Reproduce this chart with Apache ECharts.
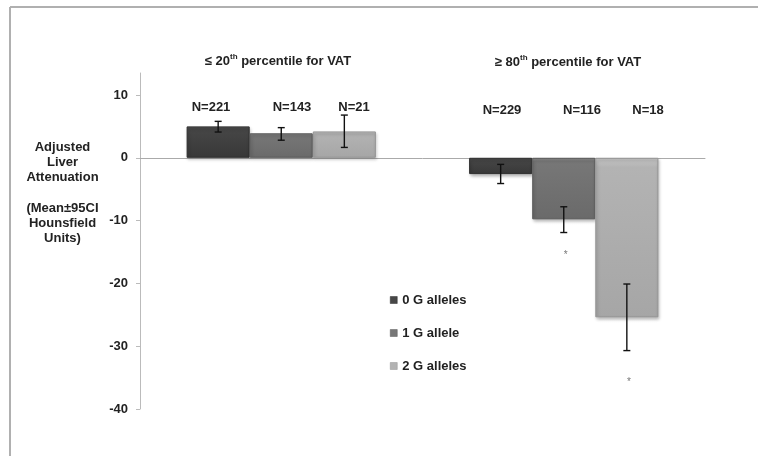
<!DOCTYPE html>
<html>
<head>
<meta charset="utf-8">
<script src="https://cdn.jsdelivr.net/npm/echarts@6/dist/echarts.min.js"></script>
<style>
html,body{margin:0;padding:0;background:#fff;}
#c{width:758px;height:456px;}
</style>
</head>
<body>
<div id="c"></div>
<script>
// ---- data ----
const categories = ['≤ 20th percentile for VAT', '≥ 80th percentile for VAT'];
const seriesNames = ['0 G alleles', '1 G allele', '2 G alleles'];
const means0 = [5.0, -2.6];
const means1 = [3.9, -9.8];
const means2 = [4.2, -25.4];
const ciLow0 = [4.1, -4.1];
const ciHigh0 = [5.8, -1.05];
const ciLow1 = [2.8, -11.9];
const ciHigh1 = [4.8, -7.8];
const ciLow2 = [1.65, -30.7];
const ciHigh2 = [6.8, -20.1];
const sig0 = [null, null];
const sig1 = [null, -15.5];
const sig2 = [null, -35.7];
const nLabels0 = ['N=221', 'N=229'];
const nLabels1 = ['N=143', 'N=116'];
const nLabels2 = ['N=21', 'N=18'];
const yTicks = [-40, -30, -20, -10, 0, 10];
const yTitle = 'Adjusted\nLiver\nAttenuation\n\n(Mean±95CI\nHounsfield\nUnits)';

const CAT_GAP = 0.33;
const means = [means0, means1, means2];
const lows = [ciLow0, ciLow1, ciLow2];
const highs = [ciHigh0, ciHigh1, ciHigh2];
const sigs = [sig0, sig1, sig2];

const errData = [];
const sigData = [];
for (let s = 0; s < 3; s++) {
  for (let c = 0; c < categories.length; c++) {
    errData.push([c, s, lows[s][c], highs[s][c]]);
    if (sigs[s][c] != null) sigData.push([c, s, sigs[s][c]]);
  }
}

const barStyles = [
  {top: '#5e5e5e', mid: '#474747', bot: '#383838', border: '#2e2e2e'},
  {top: '#8c8c8c', mid: '#777777', bot: '#6a6a6a', border: '#5a5a5a'},
  {top: '#c6c6c6', mid: '#b3b3b3', bot: '#a6a6a6', border: '#959595'}
];
const legendColors = ['#474747', '#777777', '#b3b3b3'];

function barX(api, cat, s) {
  const band = api.size([1, 0])[0];
  const w = band * (1 - CAT_GAP) / 3;
  return api.coord([cat, 0])[0] + (s - 1) * w;
}

const chart = echarts.init(document.getElementById('c'), null, {renderer: 'canvas'});
const font = 'Liberation Sans, Arial, sans-serif';

const barSeries = seriesNames.map((name, i) => ({
  name: name,
  type: 'bar',
  data: means[i],
  barGap: '0%',
  barCategoryGap: (CAT_GAP * 100) + '%',
  itemStyle: {
    color: new echarts.graphic.LinearGradient(0, 0, 0, 1, [
      {offset: 0, color: barStyles[i].top},
      {offset: 0.06, color: barStyles[i].mid},
      {offset: 1, color: barStyles[i].bot}
    ]),
    borderColor: barStyles[i].border,
    borderWidth: 1,
    shadowColor: 'rgba(0,0,0,0.25)',
    shadowBlur: 3,
    shadowOffsetY: 2,
    shadowOffsetX: 1
  },
  emphasis: {disabled: true}
}));

const option = {
  backgroundColor: '#fff',
  animation: false,
  color: legendColors,
  grid: {left: 140, right: 53, top: 73, bottom: 47, containLabel: false},
  legend: {
    data: seriesNames.map((n, i) => ({name: n, itemStyle: {color: legendColors[i], borderColor: barStyles[i].border, borderWidth: 0.5}})),
    orient: 'vertical',
    left: 390,
    top: 293.5,
    padding: 0,
    itemWidth: 7,
    itemHeight: 7,
    itemGap: 20,
    icon: 'rect',
    textStyle: {fontFamily: font, fontWeight: 'bold', fontSize: 13, color: '#222'}
  },
  xAxis: {
    type: 'category',
    data: categories,
    axisLine: {show: true, onZero: true, lineStyle: {color: '#aaaaaa', width: 1}},
    axisTick: {show: false},
    axisLabel: {show: false},
    splitLine: {show: false}
  },
  yAxis: {
    type: 'value',
    min: -40,
    max: 13.5,
    interval: 10,
    axisLine: {show: true, lineStyle: {color: '#bbbbbb', width: 1}},
    axisTick: {show: true, length: 4, lineStyle: {color: '#bbbbbb'}, customValues: yTicks},
    axisLabel: {
      customValues: yTicks,
      fontFamily: font, fontWeight: 'bold', fontSize: 13, color: '#222', margin: 12,
      formatter: v => (yTicks.indexOf(v) >= 0 ? String(v) : '')
    },
    splitLine: {show: false}
  },
  series: barSeries.concat([
    {
      type: 'custom',
      name: 'ci',
      data: errData,
      z: 5,
      silent: true,
      encode: {x: 0, y: [2, 3]},
      renderItem: function (params, api) {
        const cat = api.value(0), s = api.value(1);
        const x = barX(api, cat, s);
        const y1 = api.coord([cat, api.value(2)])[1];
        const y2 = api.coord([cat, api.value(3)])[1];
        const st = {stroke: '#111', lineWidth: 1.4};
        return {
          type: 'group',
          children: [
            {type: 'line', shape: {x1: x, y1: y1, x2: x, y2: y2}, style: st},
            {type: 'line', shape: {x1: x - 3.5, y1: y1, x2: x + 3.5, y2: y1}, style: st},
            {type: 'line', shape: {x1: x - 3.5, y1: y2, x2: x + 3.5, y2: y2}, style: st}
          ]
        };
      }
    },
    {
      type: 'custom',
      name: 'sig',
      data: sigData,
      z: 5,
      silent: true,
      encode: {x: 0, y: 2},
      renderItem: function (params, api) {
        const cat = api.value(0), s = api.value(1);
        const x = barX(api, cat, s) + 2;
        const y = api.coord([cat, api.value(2)])[1];
        return {
          type: 'text',
          style: {x: x, y: y, text: '*', fill: '#777', fontSize: 10, fontFamily: font, align: 'center', verticalAlign: 'middle'}
        };
      }
    }
  ]),
  graphic: [
    {type: 'line', shape: {x1: 10, y1: 7, x2: 758, y2: 7}, style: {stroke: '#b0b0b0', lineWidth: 2}, silent: true},
    {type: 'line', shape: {x1: 10, y1: 7, x2: 10, y2: 456}, style: {stroke: '#b0b0b0', lineWidth: 2}, silent: true},
    {
      type: 'text', silent: true,
      style: {
        x: 62.5, y: 140, text: yTitle, fill: '#222', align: 'center', verticalAlign: 'top',
        font: 'bold 13px ' + font, lineHeight: 15.1
      }
    },
    {
      type: 'text', silent: true,
      style: {
        x: 278, y: 61, align: 'center', verticalAlign: 'middle',
        text: '{a|≤ 20}{s|th}{a| percentile for VAT}',
        rich: {
          a: {font: 'bold 13px ' + font, fill: '#222', lineHeight: 16},
          s: {font: 'bold 8px ' + font, fill: '#222', lineHeight: 10, verticalAlign: 'top'}
        }
      }
    },
    {
      type: 'text', silent: true,
      style: {
        x: 568, y: 62, align: 'center', verticalAlign: 'middle',
        text: '{a|≥ 80}{s|th}{a| percentile for VAT}',
        rich: {
          a: {font: 'bold 13px ' + font, fill: '#222', lineHeight: 16},
          s: {font: 'bold 8px ' + font, fill: '#222', lineHeight: 10, verticalAlign: 'top'}
        }
      }
    },
    {type: 'text', silent: true, style: {x: 211, y: 107, text: nLabels0[0], font: 'bold 13px ' + font, fill: '#222', align: 'center', verticalAlign: 'middle'}},
    {type: 'text', silent: true, style: {x: 292, y: 107, text: nLabels1[0], font: 'bold 13px ' + font, fill: '#222', align: 'center', verticalAlign: 'middle'}},
    {type: 'text', silent: true, style: {x: 354, y: 107, text: nLabels2[0], font: 'bold 13px ' + font, fill: '#222', align: 'center', verticalAlign: 'middle'}},
    {type: 'text', silent: true, style: {x: 502, y: 110, text: nLabels0[1], font: 'bold 13px ' + font, fill: '#222', align: 'center', verticalAlign: 'middle'}},
    {type: 'text', silent: true, style: {x: 582, y: 110, text: nLabels1[1], font: 'bold 13px ' + font, fill: '#222', align: 'center', verticalAlign: 'middle'}},
    {type: 'text', silent: true, style: {x: 648, y: 110, text: nLabels2[1], font: 'bold 13px ' + font, fill: '#222', align: 'center', verticalAlign: 'middle'}}
  ]
};
chart.setOption(option);
</script>
</body>
</html>
